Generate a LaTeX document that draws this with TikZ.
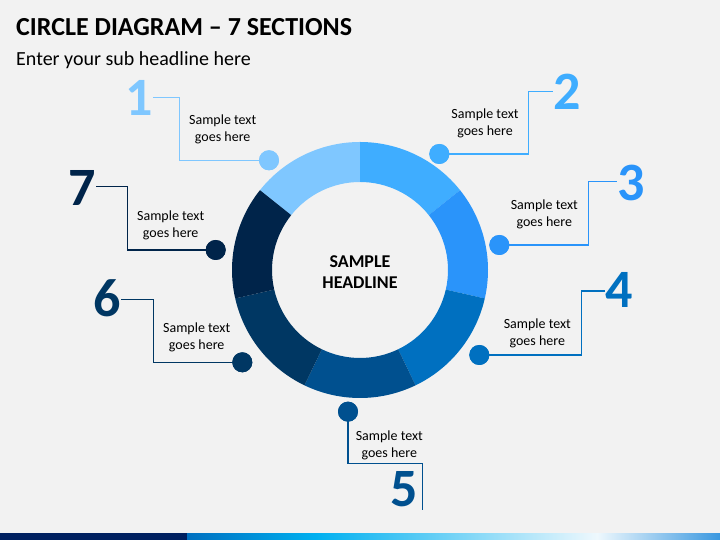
\documentclass[tikz,border=0pt]{standalone}
\usepackage{fontspec}
\setmainfont{Carlito}
\definecolor{bg}{HTML}{F2F2F2}
\definecolor{ca}{HTML}{7FC7FF}
\definecolor{cb}{HTML}{3FADFF}
\definecolor{cc}{HTML}{2A94FA}
\definecolor{cd}{HTML}{0070C0}
\definecolor{ce}{HTML}{00508F}
\definecolor{cf}{HTML}{003763}
\definecolor{cg}{HTML}{00244A}
\definecolor{navy}{HTML}{002060}
\definecolor{cyanb}{HTML}{00B0F0}
\definecolor{paleb}{HTML}{EEF8FD}
\definecolor{endb}{HTML}{3A98E0}
\tikzset{
  dotmark/.style={circle, fill=#1, minimum size=20pt, inner sep=0pt},
  numlbl/.style={text=#1, font=\fontsize{54}{54}\selectfont\bfseries, inner sep=0pt},
  leader/.style={draw=#1, line width=1.5pt},
  sample/.style={font=\fontsize{14}{17}\selectfont, align=center, inner sep=0pt},
}
\begin{document}
\begin{tikzpicture}[x=1pt,y=1pt]
\useasboundingbox (0,0) rectangle (720,540);
\fill[bg] (0,0) rectangle (720,540);
% title
\node[anchor=base west, inner sep=0pt, font=\fontsize{26}{26}\selectfont\bfseries] (title) at (16,504) {CIRCLE DIAGRAM – 7 SECTIONS};
\node[anchor=base west, inner sep=0pt, font=\fontsize{20}{20}\selectfont] (sub) at (16,474.3) {Enter your sub headline here};
% ring
\foreach \a/\b/\c in {90/141.43/ca, 38.57/90/cb, -12.86/38.57/cc, -64.29/-12.86/cd, -115.71/-64.29/ce, -167.14/-115.71/cf, 141.43/192.86/cg}{
  \fill[\c, shift={(360,270)}] (\a:128pt) arc[start angle=\a, end angle=\b, radius=128pt] -- (\b:88pt) arc[start angle=\b, end angle=\a, radius=88pt] -- cycle;
}
\node[align=center, inner sep=0pt, font=\fontsize{18}{21}\selectfont\bfseries] (head) at (360,268) {SAMPLE\\HEADLINE};
% dots
\node[dotmark=ca] (d1) at (269,379.7) {};
\node[dotmark=cb] (d2) at (439.3,386) {};
\node[dotmark=cc] (d3) at (499.3,295) {};
\node[dotmark=cd] (d4) at (479.3,185) {};
\node[dotmark=ce] (d5) at (348,128.3) {};
\node[dotmark=cf] (d6) at (242.3,177.7) {};
\node[dotmark=cg] (d7) at (215.7,290) {};
% numbers
\node[numlbl=ca] (n1) at (139,442) {1};
\node[numlbl=cb] (n2) at (567,448) {2};
\node[numlbl=cc] (n3) at (631,357) {3};
\node[numlbl=cd] (n4) at (619,250) {4};
\node[numlbl=ce] (n5) at (404,51) {5};
\node[numlbl=cf] (n6) at (106.7,241.5) {6};
\node[numlbl=cg] (n7) at (82.5,352) {7};
% corners
\coordinate (k1) at (179.3,442.7);
\coordinate (k2) at (528.3,448.3);
\coordinate (k3) at (588.3,358.3);
\coordinate (k4) at (581.7,249);
\coordinate (k5) at (422.3,76.7);
\coordinate (k5e) at (422.3,30);
\coordinate (k6) at (153.3,240.7);
\coordinate (k7) at (127.3,353.3);
% leaders
\draw[leader=ca] (d1.center) -| (k1) -- (k1 -| n1.east);
\draw[leader=cb] (d2.center) -| (k2) -- (k2 -| n2.west);
\draw[leader=cc] (d3.center) -| (k3) -- (k3 -| n3.west);
\draw[leader=cd] (d4.center) -| (k4) -- (k4 -| n4.west);
\draw[leader=ce] (d5.center) |- (k5) -- (k5e);
\draw[leader=cf] (d6.center) -| (k6) -- (k6 -| n6.east);
\draw[leader=cg] (d7.center) -| (k7) -- (k7 -| n7.east);
% redraw dots on top
\foreach \d/\c in {d1/ca,d2/cb,d3/cc,d4/cd,d5/ce,d6/cf,d7/cg}{\fill[\c] (\d) circle (10pt);}
% texts
\node[sample] (t1) at (222.7,411) {Sample text\\goes here};
\node[sample] (t2) at (485,416.6) {Sample text\\goes here};
\node[sample] (t3) at (544.3,325.6) {Sample text\\goes here};
\node[sample] (t4) at (537.3,206.6) {Sample text\\goes here};
\node[sample] (t5) at (389.3,95) {Sample text\\goes here};
\node[sample] (t6) at (196.7,202.3) {Sample text\\goes here};
\node[sample] (t7) at (170.7,314.3) {Sample text\\goes here};
% bottom bar
\fill[navy] (0,0) rectangle (187,6.7);
\shade[left color=cd, right color=cyanb] (187,0) rectangle (316,6.7);
\shade[left color=cyanb, right color=paleb] (316,0) rectangle (597,6.7);
\shade[left color=paleb, right color=endb] (597,0) rectangle (720,6.7);
\end{tikzpicture}
\end{document}
